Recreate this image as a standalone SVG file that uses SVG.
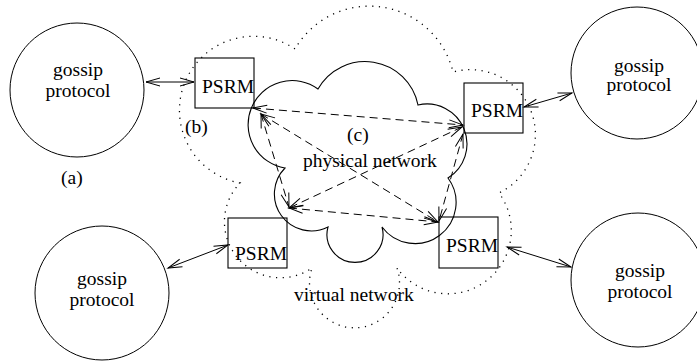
<svg xmlns="http://www.w3.org/2000/svg" width="697" height="362" viewBox="0 0 697 362">
  <defs>
    <style>
      .node { fill: none; stroke: #000; stroke-width: 1; }
      .box { fill: none; stroke: #000; stroke-width: 1.1; }
      .lbl { font-family: "Liberation Serif", "Times New Roman", serif; font-size: 19.5px; fill: #000; }
      .mid { text-anchor: middle; }
      .link { fill: none; stroke: #000; stroke-width: 1; marker-start: url(#arr); marker-end: url(#arr); }
      .dash { stroke-dasharray: 8 5; }
      .phys { fill: none; stroke: #000; stroke-width: 1.1; }
      .virt { fill: none; stroke: #000; stroke-width: 1.3; stroke-dasharray: 1.2 5.5; }
    </style>
    <marker id="arr" markerUnits="userSpaceOnUse" markerWidth="16" markerHeight="10" refX="14" refY="5" orient="auto-start-reverse" overflow="visible">
      <path d="M0,1 L14,5 L0,9" fill="none" stroke="#000" stroke-width="1" stroke-dasharray="none"/>
    </marker>
  </defs>
  <rect width="697" height="362" fill="#fff"/>

  <!-- virtual network outline (dotted cloud) -->
  <g id="virtual-network">
    <path class="virt" d="M240 183 A74 74 0 1 1 295 49 A86 86 0 0 1 453 72 A65 65 0 0 1 499 193 A63 63 0 0 1 397 268 A45 45 0 1 1 312 268 A56 56 0 0 1 240 183 Z"/>
    <text class="lbl" x="294" y="301">virtual network</text>
  </g>

  <!-- physical network (solid cloud) -->
  <g id="physical-network">
    <path class="phys" d="M285 168 A44 44 0 1 1 318 89 A54 54 0 0 1 418 105 A40 40 0 0 1 448 178 A41 41 0 0 1 382 227 A28 28 0 1 1 328 227 A37 37 0 0 1 285 168 Z"/>
    <text class="lbl" x="347" y="141">(c)</text>
    <text class="lbl" x="303" y="167">physical network</text>
  </g>

  <!-- gossip protocol nodes -->
  <g id="gossip-tl">
    <circle class="node" cx="77" cy="90" r="67"/>
    <text class="lbl mid" x="78" y="76">gossip</text>
    <text class="lbl mid" x="78" y="97">protocol</text>
  </g>
  <g id="gossip-tr">
    <circle class="node" cx="637" cy="73" r="66"/>
    <text class="lbl mid" x="639" y="72">gossip</text>
    <text class="lbl mid" x="639" y="91">protocol</text>
  </g>
  <g id="gossip-bl">
    <circle class="node" cx="102" cy="293" r="67"/>
    <text class="lbl mid" x="102" y="285">gossip</text>
    <text class="lbl mid" x="102" y="306">protocol</text>
  </g>
  <g id="gossip-br">
    <circle class="node" cx="638" cy="280" r="67"/>
    <text class="lbl mid" x="640" y="277">gossip</text>
    <text class="lbl mid" x="640" y="298">protocol</text>
  </g>

  <!-- PSRM nodes -->
  <g id="psrm-tl">
    <rect class="box" x="195" y="58" width="59" height="50"/>
    <text class="lbl" x="202" y="93">PSRM</text>
  </g>
  <g id="psrm-tr">
    <rect class="box" x="464" y="83" width="59" height="50"/>
    <text class="lbl" x="471" y="117">PSRM</text>
  </g>
  <g id="psrm-bl">
    <rect class="box" x="228" y="218" width="59" height="50"/>
    <text class="lbl" x="235" y="260">PSRM</text>
  </g>
  <g id="psrm-br">
    <rect class="box" x="439" y="217" width="59" height="51"/>
    <text class="lbl" x="446" y="252">PSRM</text>
  </g>

  <!-- side labels -->
  <g id="labels">
    <text class="lbl" x="61" y="184">(a)</text>
    <text class="lbl" x="185" y="133">(b)</text>
  </g>

  <!-- connectors -->
  <g id="connectors">
    <line class="link" x1="146" y1="82" x2="194" y2="82"/>
    <line class="link" x1="524" y1="107" x2="572" y2="93"/>
    <line class="link" x1="168" y1="268" x2="228" y2="245"/>
    <line class="link" x1="507" y1="247" x2="571" y2="267"/>

    <line class="link dash" x1="253" y1="108" x2="463" y2="125"/>
    <line class="link dash" x1="261" y1="114" x2="289" y2="207"/>
    <line class="link dash" x1="261" y1="114" x2="438" y2="222"/>
    <line class="link dash" x1="462" y1="127" x2="289" y2="208"/>
    <line class="link dash" x1="289" y1="208" x2="438" y2="222"/>
    <line class="link dash" x1="463" y1="134" x2="439" y2="221"/>
  </g>
</svg>
